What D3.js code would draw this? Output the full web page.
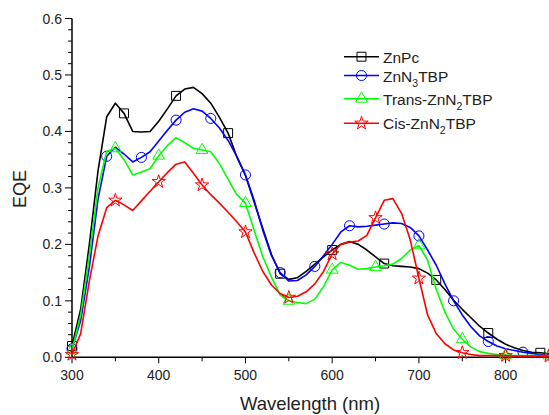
<!DOCTYPE html>
<html><head><meta charset="utf-8">
<script src="https://cdn.jsdelivr.net/npm/d3@7"></script>
<style>
html,body{margin:0;padding:0;background:#fff;}
svg{display:block;font-family:"Liberation Sans",Arial,sans-serif;}
</style></head>
<body><svg id="c" width="549" height="415"></svg>
<script>
const wavelengths = d3.range(300, 851, 10);
const znpc = [0.02,0.085,0.2,0.33,0.426,0.45,0.432,0.40,0.399,0.40,0.418,0.44,0.463,0.475,0.478,0.467,0.45,0.425,0.397,0.355,0.322,0.275,0.228,0.182,0.148,0.138,0.141,0.152,0.165,0.178,0.19,0.2,0.205,0.2,0.19,0.178,0.166,0.162,0.161,0.16,0.157,0.149,0.137,0.12,0.101,0.085,0.07,0.055,0.043,0.032,0.023,0.017,0.012,0.009,0.008,0.006];
const znn3tbp = [0.015,0.065,0.16,0.28,0.356,0.372,0.36,0.346,0.354,0.364,0.383,0.402,0.42,0.434,0.44,0.436,0.423,0.406,0.384,0.356,0.323,0.278,0.225,0.18,0.15,0.135,0.136,0.146,0.161,0.18,0.2,0.222,0.233,0.231,0.232,0.234,0.236,0.238,0.237,0.23,0.215,0.19,0.163,0.13,0.1,0.075,0.054,0.038,0.028,0.02,0.015,0.012,0.009,0.007,0.005,0.004];
const transZnN2tbp = [0.012,0.075,0.18,0.3,0.365,0.37,0.35,0.323,0.328,0.334,0.357,0.375,0.389,0.38,0.37,0.367,0.364,0.343,0.315,0.288,0.273,0.225,0.178,0.142,0.11,0.1,0.097,0.095,0.103,0.125,0.155,0.168,0.163,0.156,0.157,0.16,0.162,0.165,0.175,0.19,0.198,0.172,0.12,0.08,0.05,0.032,0.018,0.01,0.007,0.005,0.004,0.003,0.003,0.003,0.003,0.003];
const cisZnN2tbp = [0.005,0.042,0.135,0.215,0.265,0.278,0.27,0.26,0.277,0.294,0.311,0.327,0.342,0.346,0.326,0.305,0.288,0.273,0.257,0.24,0.222,0.185,0.152,0.128,0.113,0.106,0.108,0.116,0.13,0.152,0.183,0.2,0.204,0.206,0.216,0.247,0.278,0.281,0.255,0.208,0.14,0.075,0.042,0.024,0.013,0.008,0.005,0.003,0.003,0.003,0.003,0.002,0.002,0.002,0.002,0.002];
const seriesNames = ["ZnPc","ZnN3TBP","Trans-ZnN2TBP","Cis-ZnN2TBP"];
const xTicks = [300,400,500,600,700,800];
const yTicks = [0.0,0.1,0.2,0.3,0.4,0.5,0.6];

const series = [
  {name:"ZnPc", base:"ZnPc", sub:"", rest:"", values:znpc, color:"#000000", symbol:d3.symbolSquare, size:80, every:6},
  {name:"ZnN3TBP", base:"ZnN", sub:"3", rest:"TBP", values:znn3tbp, color:"#0000ff", symbol:d3.symbolCircle, size:80, every:4},
  {name:"Trans-ZnN2TBP", base:"Trans-ZnN", sub:"2", rest:"TBP", values:transZnN2tbp, color:"#00ff00", symbol:d3.symbolTriangle, size:60, every:5},
  {name:"Cis-ZnN2TBP", base:"Cis-ZnN", sub:"2", rest:"TBP", values:cisZnN2tbp, color:"#ff0000", symbol:d3.symbolStar, size:55, every:5}
];

const svg = d3.select("#c");
const x = d3.scaleLinear().domain([300,850]).range([72,549]);
const y = d3.scaleLinear().domain([0,0.6]).range([357.3,18.5]);

// axes
const xAxis = svg.append("g").attr("transform",`translate(0,${y(0)})`);
xAxis.append("line").attr("x1",x(300)).attr("x2",x(850)).attr("stroke","#000").attr("stroke-width",1.5);
d3.range(300,851,50).forEach(v=>{
  const major = v%100===0;
  xAxis.append("line").attr("x1",x(v)).attr("x2",x(v)).attr("y1",0).attr("y2",major?6:4).attr("stroke","#000").attr("stroke-width",1);
});
xTicks.forEach(v=>{
  xAxis.append("text").attr("x",x(v)).attr("y",22.5).attr("text-anchor","middle").attr("font-size",14).attr("fill","#222").text(v);
});

const yAxis = svg.append("g").attr("transform",`translate(${x(300)},0)`);
yAxis.append("line").attr("y1",y(0)).attr("y2",y(0.6)).attr("stroke","#000").attr("stroke-width",1.5);
d3.range(0,31).forEach(i=>{
  const v=i*0.02; const major = i%5===0;
  yAxis.append("line").attr("x1",0).attr("x2",major?-7:-4).attr("y1",y(v)).attr("y2",y(v)).attr("stroke","#000").attr("stroke-width",1);
});
yTicks.forEach(v=>{
  yAxis.append("text").attr("x",-10).attr("y",y(v)+5).attr("text-anchor","end").attr("font-size",14).attr("fill","#222").text(v.toFixed(1));
});

svg.append("text").attr("transform","translate(26,189) rotate(-90)").attr("text-anchor","middle").attr("font-size",18).attr("fill","#222").text("EQE");
svg.append("text").attr("x",310).attr("y",410).attr("text-anchor","middle").attr("font-size",18.5).attr("fill","#222").text("Wavelength (nm)");

// lines
const line = d3.line().x(d=>x(d[0])).y(d=>y(d[1]));
series.forEach(s=>{
  const pts = wavelengths.map((w,i)=>[w,s.values[i]]);
  svg.append("path").attr("d",line(pts)).attr("fill","none").attr("stroke",s.color).attr("stroke-width",1.6).attr("stroke-linejoin","round");
  const sym = d3.symbol().type(s.symbol).size(s.size);
  pts.filter((p,i)=>i%s.every===0).forEach(p=>{
    svg.append("path").attr("d",sym()).attr("transform",`translate(${x(p[0])},${y(p[1])})`).attr("fill","none").attr("stroke",s.color).attr("stroke-width",1);
  });
});

// legend
const legY = [56.7,75.5,98.7,123.3];
series.forEach((s,i)=>{
  const g = svg.append("g").attr("transform",`translate(0,${legY[i]})`);
  g.append("line").attr("x1",344).attr("x2",379).attr("stroke",s.color).attr("stroke-width",1.6);
  g.append("path").attr("d",d3.symbol().type(s.symbol).size(s.size)()).attr("transform","translate(361.5,0)").attr("fill","none").attr("stroke",s.color).attr("stroke-width",1);
  const t = g.append("text").attr("x",383).attr("y",6).attr("font-size",15.5).attr("fill","#222");
  t.append("tspan").text(s.base);
  if (s.sub) {
    t.append("tspan").attr("font-size",10.5).attr("dy",5).text(s.sub);
    t.append("tspan").attr("dy",-5).text(s.rest);
  }
});
</script></body></html>
